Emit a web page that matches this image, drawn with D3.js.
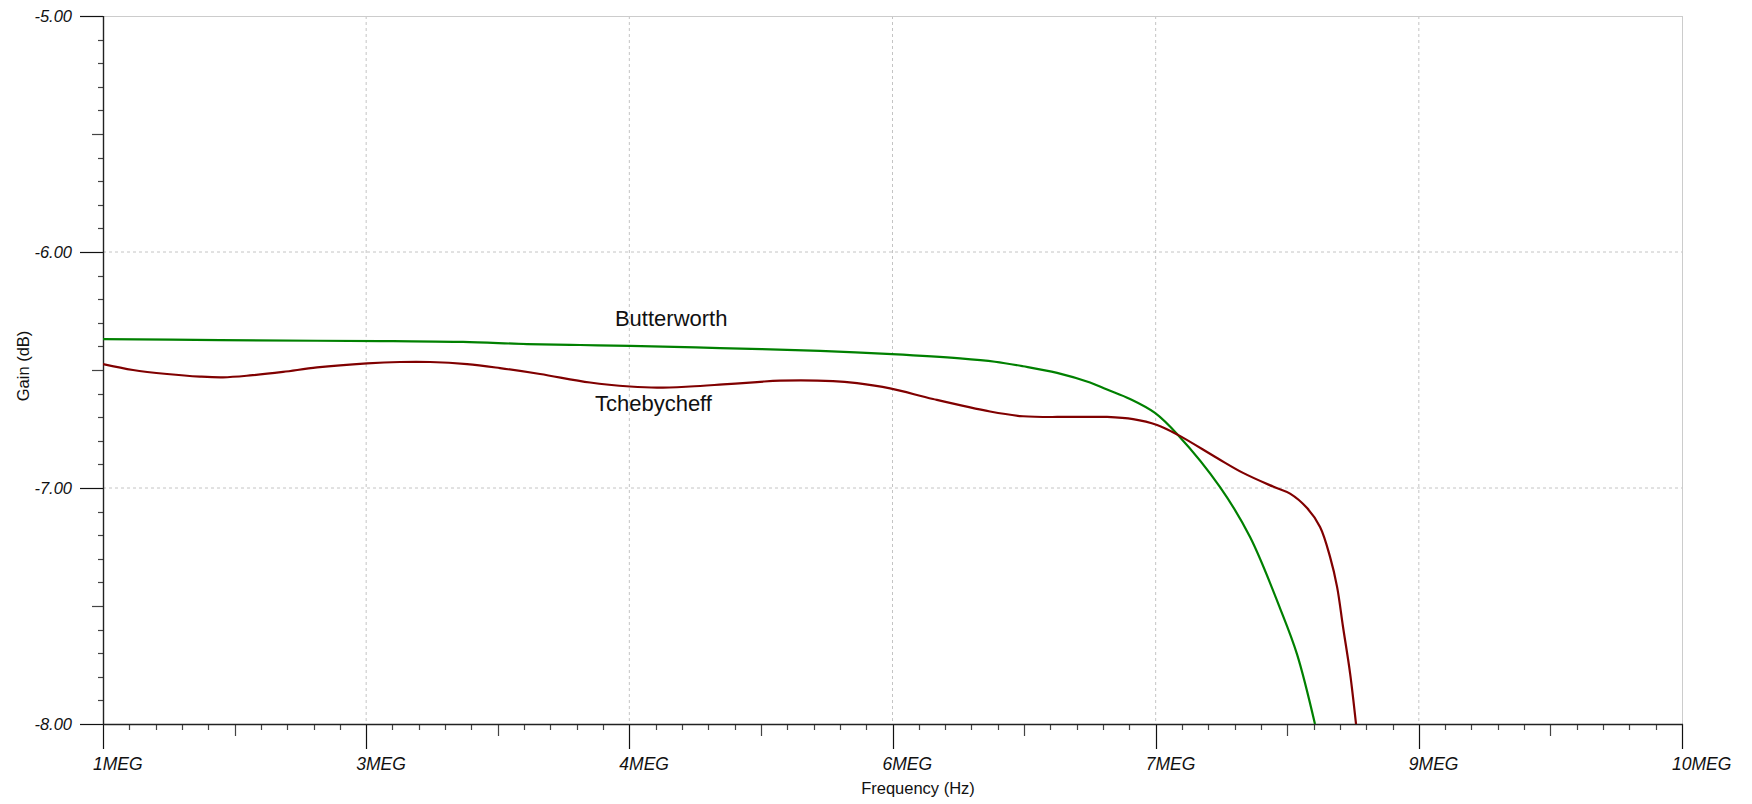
<!DOCTYPE html>
<html>
<head>
<meta charset="utf-8">
<script src="https://cdn.jsdelivr.net/npm/d3@7"></script>
<style>
  html, body { margin: 0; padding: 0; background: #fff; }
  svg { display: block; font-family: "Liberation Sans", Arial, sans-serif; }
</style>
</head>
<body>
<svg id="chart" width="1752" height="804"></svg>
<script>
// ---- Data (frequency in MHz, gain in dB) ----
const butterFreq = [1.0, 1.667, 2.22, 2.653, 3.052, 3.417, 3.719, 4.004, 4.517, 5.087, 5.497, 5.885, 6.084, 6.244, 6.438, 6.626, 6.723, 6.854, 6.996, 7.127, 7.367, 7.538, 7.709, 7.806, 7.908];
const butterGain = [-6.369, -6.373, -6.376, -6.378, -6.381, -6.390, -6.394, -6.398, -6.407, -6.419, -6.433, -6.451, -6.465, -6.484, -6.512, -6.553, -6.583, -6.623, -6.682, -6.775, -6.996, -7.208, -7.510, -7.705, -8.0];

const chebyFreq = [1.0, 1.171, 1.365, 1.553, 1.684, 1.838, 2.026, 2.220, 2.505, 2.693, 2.864, 3.075, 3.263, 3.491, 3.776, 4.004, 4.158, 4.346, 4.534, 4.728, 4.859, 5.161, 5.298, 5.486, 5.731, 6.056, 6.244, 6.512, 6.723, 6.871, 7.008, 7.127, 7.350, 7.498, 7.669, 7.766, 7.863, 7.937, 7.994, 8.034, 8.068, 8.108, 8.142];
const chebyGain = [-6.475, -6.500, -6.517, -6.528, -6.531, -6.523, -6.508, -6.489, -6.472, -6.466, -6.466, -6.475, -6.492, -6.517, -6.553, -6.570, -6.575, -6.570, -6.561, -6.551, -6.545, -6.547, -6.556, -6.578, -6.623, -6.676, -6.696, -6.699, -6.699, -6.708, -6.733, -6.775, -6.873, -6.936, -6.994, -7.024, -7.085, -7.165, -7.292, -7.419, -7.589, -7.784, -8.0];

const xTickValues = [1, 2.5, 4, 5.5, 7, 8.5, 10];
const xTickLabels = ["1MEG", "3MEG", "4MEG", "6MEG", "7MEG", "9MEG", "10MEG"];
const yTickValues = [-5, -6, -7, -8];
const yTickLabels = ["-5.00", "-6.00", "-7.00", "-8.00"];

const seriesNames = ["Butterworth", "Tchebycheff"];
const labelFreq = [3.918, 3.804];
const labelGain = [-6.3136, -6.674];

const xTitle = "Frequency (Hz)";
const yTitle = "Gain (dB)";

// ---- Layout ----
const L = 103, R = 1682, T = 16, B = 724;
const svg = d3.select("#chart");

const x = d3.scaleLinear().domain([1, 10]).range([L, R]);
const y = d3.scaleLinear().domain([-8, -5]).range([B, T]);

// grid
const grid = svg.append("g");
grid.selectAll("line.vg").data(xTickValues.slice(1, -1)).join("line")
  .attr("x1", d => x(d)).attr("x2", d => x(d)).attr("y1", T).attr("y2", B)
  .attr("stroke", "#c4c4c4").attr("stroke-width", 1).attr("stroke-dasharray", "3,3");
grid.selectAll("line.hg").data(yTickValues.slice(1, -1)).join("line")
  .attr("x1", L).attr("x2", R).attr("y1", d => y(d)).attr("y2", d => y(d))
  .attr("stroke", "#c4c4c4").attr("stroke-width", 1).attr("stroke-dasharray", "3,3");
// top and right borders
grid.append("line").attr("x1", L).attr("x2", R).attr("y1", y(-5) + 0.5).attr("y2", y(-5) + 0.5)
  .attr("stroke", "#cccccc").attr("stroke-width", 1);
grid.append("line").attr("x1", x(10) + 0.5).attr("x2", x(10) + 0.5).attr("y1", T).attr("y2", B)
  .attr("stroke", "#cccccc").attr("stroke-width", 1);

// minor ticks
const xMinor = d3.range(0, 61).map(i => 1 + i * 0.15);
const yMinor = d3.range(0, 31).map(i => -8 + i * 0.1);

const axisG = svg.append("g");
axisG.selectAll("line.xm").data(xMinor).join("line")
  .attr("x1", d => Math.round(x(d)) + 0.5).attr("x2", d => Math.round(x(d)) + 0.5)
  .attr("y1", B)
  .attr("y2", (d, i) => B + (i % 10 === 0 ? 25 : (i % 5 === 0 ? 12 : 6)))
  .attr("stroke", (d, i) => i % 10 === 0 ? "#111" : "#444").attr("stroke-width", 1.2);
axisG.selectAll("line.ym").data(yMinor).join("line")
  .attr("y1", d => Math.round(y(d)) + 0.5).attr("y2", d => Math.round(y(d)) + 0.5)
  .attr("x1", L)
  .attr("x2", (d, i) => L - (i % 10 === 0 ? 23 : (i % 5 === 0 ? 11 : 5)))
  .attr("stroke", (d, i) => i % 10 === 0 ? "#111" : "#444").attr("stroke-width", 1.2);

// axis lines
axisG.append("line").attr("x1", L + 0.5).attr("x2", L + 0.5).attr("y1", T).attr("y2", B)
  .attr("stroke", "#222").attr("stroke-width", 1.4);
axisG.append("line").attr("x1", L).attr("x2", R + 1).attr("y1", B + 0.5).attr("y2", B + 0.5)
  .attr("stroke", "#222").attr("stroke-width", 1.4);

// tick labels
axisG.selectAll("text.xl").data(xTickValues).join("text")
  .attr("x", d => x(d) - 10).attr("y", 770)
  .attr("font-size", "17.5px").attr("font-style", "italic").attr("fill", "#111")
  .text((d, i) => xTickLabels[i]);
axisG.selectAll("text.yl").data(yTickValues).join("text")
  .attr("x", 72).attr("y", d => y(d)).attr("dy", "0.36em")
  .attr("text-anchor", "end")
  .attr("font-size", "16.5px").attr("font-style", "italic").attr("fill", "#111")
  .text((d, i) => yTickLabels[i]);

// axis titles
svg.append("text").attr("x", 918).attr("y", 794).attr("text-anchor", "middle")
  .attr("font-size", "16.5px").attr("fill", "#111").text(xTitle);
svg.append("text").attr("transform", "translate(29,366) rotate(-90)").attr("text-anchor", "middle")
  .attr("font-size", "16.5px").attr("fill", "#111").text(yTitle);

// series
const line = d3.line().x(d => x(d[0])).y(d => y(d[1])).curve(d3.curveCatmullRom.alpha(0.5));
const series = [
  { f: butterFreq, g: butterGain, color: "#008000" },
  { f: chebyFreq, g: chebyGain, color: "#800000" }
];
svg.append("clipPath").attr("id", "plotclip").append("rect")
  .attr("x", L).attr("y", T - 2).attr("width", R - L).attr("height", B - T + 2);
svg.append("g").attr("clip-path", "url(#plotclip)")
  .selectAll("path").data(series).join("path")
  .attr("d", s => line(s.f.map((v, i) => [v, s.g[i]])))
  .attr("fill", "none").attr("stroke", s => s.color).attr("stroke-width", 2.2)
  .attr("stroke-linejoin", "round");

// series labels
svg.selectAll("text.sl").data(seriesNames).join("text")
  .attr("x", (d, i) => x(labelFreq[i])).attr("y", (d, i) => y(labelGain[i]))
  .attr("font-size", "22px").attr("fill", "#111")
  .text(d => d);
</script>
</body>
</html>
